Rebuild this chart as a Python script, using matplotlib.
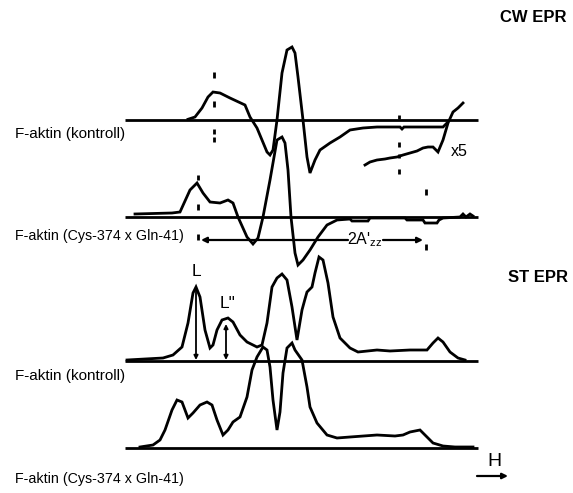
import matplotlib
matplotlib.use("Agg")
import matplotlib.pyplot as plt
from matplotlib import font_manager

names = {f.name for f in font_manager.fontManager.ttflist}
NARROW = "Liberation Sans Narrow" in names
FAM = ["Liberation Sans Narrow", "DejaVu Sans"] if NARROW else ["Liberation Sans", "DejaVu Sans"]
plt.rcParams["font.family"] = FAM
plt.rcParams["mathtext.fontset"] = "custom"
plt.rcParams["mathtext.rm"] = FAM[0]
plt.rcParams["mathtext.it"] = FAM[0]

# ---------------- data (field position, signal amplitude) ----------------
cw_ctrl_field = [188, 195, 202, 208, 213, 220, 230, 245, 250, 257, 267, 270, 273, 277, 282, 287,
                 292, 295, 298, 303, 307, 310, 315, 320, 330, 340, 350, 363, 377, 400, 402, 404, 443, 447]
cw_ctrl_signal = [0.7, 3, 12, 23, 28, 27, 22, 15, 3, -8, -32, -35, -30, 0, 47, 70,
                  73, 67, 43, 0, -37, -53, -40, -30, -23, -17, -10, -8, -7, -7, -9, -7, -7, -3]

cw_ctrl_x5_field = [365, 370, 377, 385, 390, 397, 403, 410, 417, 423, 428, 433, 438, 443, 448, 453, 458, 463]
cw_ctrl_x5_signal = [-45, -42, -40, -39, -38, -37, -35, -33, -31, -28, -27, -27, -32, -20, -3, 8, 12, 17]

cw_mut_field = [135, 172, 180, 190, 197, 203, 210, 220, 228, 233, 238, 247, 253, 258, 263, 270,
                277, 282, 285, 288, 291, 295, 298, 303, 310, 318, 327, 337, 350, 352, 368, 370,
                405, 407, 423, 425, 437, 439, 443, 460, 463, 466, 470, 473]
cw_mut_signal = [3, 4, 5, 27, 34, 24, 15, 14, 17, 14, 0, -20, -27, -21, 0, 37,
                 77, 80, 74, 47, 0, -36, -48, -43, -33, -20, -8, -3, -2, -4, -4, -1,
                 -1, -3, -3, -6, -6, -3, -1, 0, 3, 0, 3, 1]

st_ctrl_field = [127, 163, 173, 182, 188, 193, 196, 200, 205, 210, 213, 217, 222, 228, 233, 240,
                 247, 257, 262, 267, 272, 277, 282, 287, 292, 297, 302, 305, 307, 312, 315, 319,
                 323, 328, 333, 340, 350, 358, 377, 390, 410, 427, 433, 438, 443, 450, 458, 465]
st_ctrl_signal = [1, 3, 6, 14, 38, 68, 74, 64, 31, 13, 16, 31, 41, 43, 39, 26,
                  19, 14, 16, 38, 74, 83, 87, 81, 54, 21, 51, 62, 69, 74, 88, 104,
                  101, 78, 44, 23, 13, 9, 11, 10, 11, 11, 18, 23, 19, 9, 3, 1]

st_mut_field = [140, 153, 160, 165, 172, 177, 182, 188, 193, 200, 207, 212, 217, 223, 228, 233,
                240, 247, 252, 257, 263, 267, 270, 273, 277, 280, 283, 287, 292, 295, 302, 307,
                310, 317, 327, 337, 350, 377, 395, 403, 410, 420, 428, 433, 443, 455, 473]
st_mut_signal = [1, 3, 8, 18, 38, 48, 46, 30, 35, 43, 46, 43, 28, 13, 18, 26,
                 31, 51, 78, 91, 101, 98, 81, 48, 18, 36, 75, 100, 105, 98, 88, 61,
                 41, 25, 13, 10, 11, 13, 12, 13, 16, 18, 10, 5, 2, 1, 1]

spectrum_labels = ["F-aktin (kontroll)", "F-aktin (Cys-374 x Gln-41)",
                   "F-aktin (kontroll)", "F-aktin (Cys-374 x Gln-41)"]
section_titles = ["CW EPR", "ST EPR"]

# ---------------- layout ----------------
fig = plt.figure(figsize=(5.73, 4.93), dpi=100)
ax = fig.add_axes([0, 0, 1, 1])
ax.set_xlim(0, 573)
ax.set_ylim(493, 0)
ax.axis("off")

LW = 2.0
base = [120, 217, 361, 448]
for b in base:
    ax.plot([125, 478], [b, b], color="black", lw=LW, solid_capstyle="butt")

def trace(fx, sig, b):
    ax.plot(fx, [b - s for s in sig], color="black", lw=LW, solid_joinstyle="miter")

trace(cw_ctrl_field, cw_ctrl_signal, base[0])
trace(cw_ctrl_x5_field, cw_ctrl_x5_signal, base[0])
trace(cw_mut_field, cw_mut_signal, base[1])
trace(st_ctrl_field, st_ctrl_signal, base[2])
trace(st_mut_field, st_mut_signal, base[3])

# dashed marker lines
def marks(x, segs):
    for y0, y1 in segs:
        ax.plot([x, x], [y0, y1], color="black", lw=2.0, solid_capstyle="butt")

marks(214, [(72, 78), (101, 107), (129, 134), (137, 142)])
marks(399, [(115, 119), (142, 147), (154, 158), (169, 174)])
marks(198, [(175, 180), (204, 210), (234, 240)])
marks(426, [(189, 195), (244, 250)])

# 2A'zz arrow
arrow_kw = dict(arrowstyle="-|>", color="black", lw=1.6, mutation_scale=8, shrinkA=0, shrinkB=0)
ax.annotate("", xy=(201, 240), xytext=(348, 240), arrowprops=arrow_kw)
ax.annotate("", xy=(423, 240), xytext=(383, 240), arrowprops=arrow_kw)
ax.text(365, 240, r"2A$'_{\mathregular{zz}}$", fontsize=11.5, ha="center", va="center")

# L and L'' arrows
ax.annotate("", xy=(196, 360), xytext=(196, 287), arrowprops=dict(arrowstyle="-|>", color="black", lw=1.3,
            mutation_scale=6, shrinkA=0, shrinkB=0))
ax.annotate("", xy=(226, 360), xytext=(226, 324), arrowprops=dict(arrowstyle="<|-|>", color="black", lw=1.3,
            mutation_scale=6, shrinkA=0, shrinkB=0))
ax.text(196, 272, "L", fontsize=12.5, ha="center", va="center")
ax.text(228, 304, 'L"', fontsize=12.5, ha="center", va="center")

# x5 label
ax.text(459, 152, "x5", fontsize=11.5, ha="center", va="center")

# H arrow
ax.annotate("", xy=(508, 476), xytext=(477, 476), arrowprops=dict(arrowstyle="-|>", color="black", lw=1.6,
            mutation_scale=8, shrinkA=0, shrinkB=0))
ax.text(494, 462, "H", fontsize=14, ha="center", va="center")

# spectrum labels
sizes = [11.0, 10.3, 11.0, 10.3] if not NARROW else [13.5, 12.5, 13.5, 12.5]
for lab, y, fs in zip(spectrum_labels, [134, 236, 376, 479], sizes):
    ax.text(15, y, lab, fontsize=fs, ha="left", va="center")

fs_t = 14 if NARROW else 12
ax.text(566, 17, section_titles[0], fontsize=fs_t, ha="right", va="center", fontweight="bold")
ax.text(568, 278, section_titles[1], fontsize=fs_t, ha="right", va="center", fontweight="bold")

fig.savefig("out.png", dpi=100)
